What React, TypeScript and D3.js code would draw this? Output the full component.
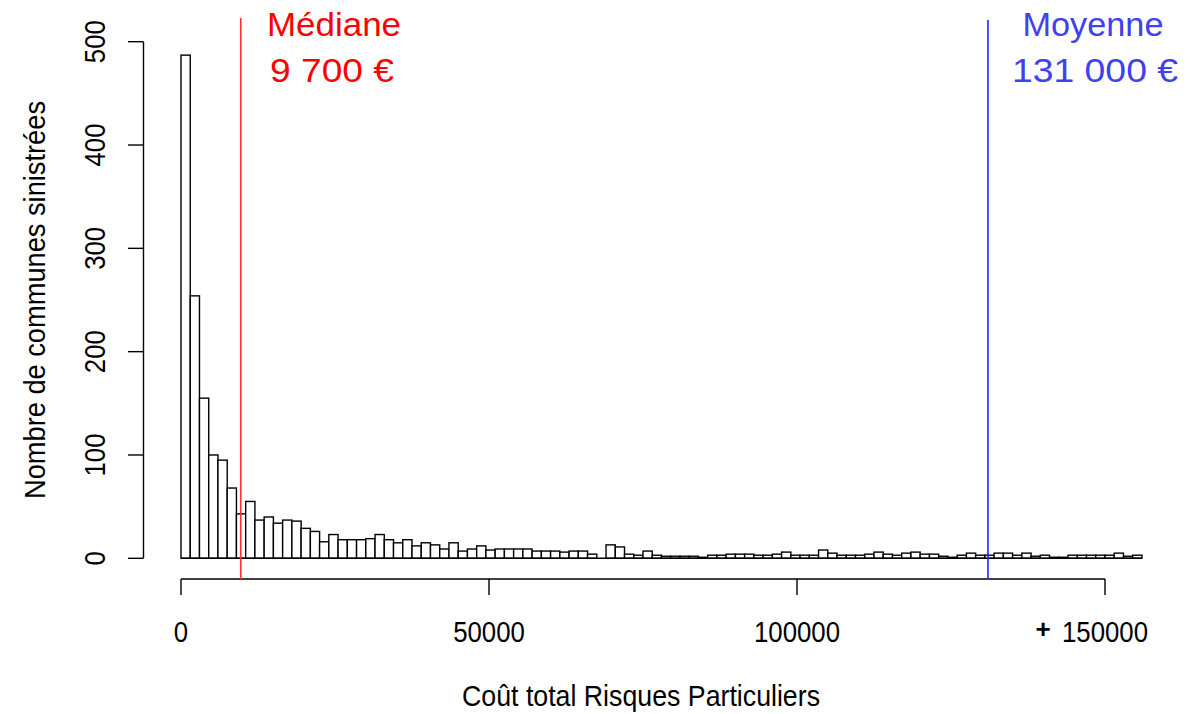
import React from "react";
import * as d3 from "d3";

// Histogram of total cost (bins of 1 500 €), counts per bin
const binWidth = 1500;
const counts: number[] = [
  487, 254, 155, 100, 95, 68, 43, 55, 37, 40,
  34, 37, 36, 29, 26, 16, 23, 18, 18, 18,
  19, 23, 18, 15, 18, 12, 15, 13, 9, 15,
  7, 9, 12, 8, 9, 9, 9, 9, 7, 7,
  7, 6, 7, 7, 4, 0, 13, 11, 4, 3,
  7, 3, 2, 2, 2, 2, 1, 3, 3, 4,
  4, 4, 3, 3, 4, 6, 3, 3, 3, 8,
  5, 3, 3, 3, 4, 6, 4, 3, 5, 6,
  4, 4, 2, 1, 3, 5, 3, 3, 5, 5,
  3, 5, 2, 3, 1, 1, 3, 3, 3, 3,
  3, 5, 2, 3,
];
const xTicks: number[] = [0, 50000, 100000, 150000];
const xTickLabels: string[] = ["0", "50000", "100000", "150000"];
const yTicks: number[] = [0, 100, 200, 300, 400, 500];
const median = 9700;
const mean = 131000;
const medianLabel = ["Médiane", "9 700 €"];
const meanLabel = ["Moyenne", "131 000 €"];
const xTitle = "Coût total Risques Particuliers";
const yTitle = "Nombre de communes sinistrées";

export default function App() {
  const x = d3.scaleLinear().domain([0, 150000]).range([181, 1105]);
  const y = d3.scaleLinear().domain([0, 500]).range([558.3, 41.7]);
  const font = "'Liberation Sans', Arial, sans-serif";
  const axisY = 579;
  const axisX = 143.5;
  const histEnd = counts.length * binWidth;

  return (
    <div style={{ position: "fixed", left: 0, top: 0 }}>
      <svg width={1204} height={714} style={{ display: "block", background: "#fff" }}>
        {/* bars */}
        <g>
          {counts.map((c, i) => {
            const x0 = x(i * binWidth);
            const x1 = x((i + 1) * binWidth);
            return (
              <rect
                key={i}
                x={x0}
                y={y(c)}
                width={x1 - x0}
                height={y(0) - y(c)}
                fill="#fff"
                stroke="#000"
                strokeWidth={1.4}
              />
            );
          })}
          <line x1={x(0)} x2={x(histEnd)} y1={y(0)} y2={y(0)} stroke="#000" strokeWidth={1.4} />
        </g>

        {/* x axis */}
        <g stroke="#000" strokeWidth={1.4}>
          <line x1={x(0)} x2={x(150000)} y1={axisY} y2={axisY} />
          {xTicks.map((t) => (
            <line key={t} x1={x(t)} x2={x(t)} y1={axisY} y2={axisY + 16} />
          ))}
        </g>
        {xTicks.map((t, i) => (
          <text
            key={t}
            transform={`translate(${x(t)},642) scale(0.86,1)`}
            textAnchor="middle"
            fontFamily={font}
            fontSize={30}
            fill="#000"
          >
            {xTickLabels[i]}
          </text>
        ))}
        <text x={1043} y={638} textAnchor="middle" fontFamily={font} fontSize={26} fontWeight="bold" fill="#000">
          +
        </text>
        <text
          x={641}
          y={706}
          textAnchor="middle"
          fontFamily={font}
          fontSize={30}
          textLength={358}
          lengthAdjust="spacingAndGlyphs"
          fill="#000"
        >
          {xTitle}
        </text>

        {/* y axis */}
        <g stroke="#000" strokeWidth={1.4}>
          <line x1={axisX} x2={axisX} y1={y(0)} y2={y(500)} />
          {yTicks.map((t) => (
            <line key={t} x1={axisX} x2={axisX - 15.5} y1={y(t)} y2={y(t)} />
          ))}
        </g>
        {yTicks.map((t) => (
          <text
            key={t}
            transform={`translate(105,${y(t)}) rotate(-90) scale(0.86,1)`}
            textAnchor="middle"
            fontFamily={font}
            fontSize={30}
            fill="#000"
          >
            {String(t)}
          </text>
        ))}
        <text
          transform={`translate(45,300) rotate(-90)`}
          textAnchor="middle"
          fontFamily={font}
          fontSize={29}
          textLength={398}
          lengthAdjust="spacingAndGlyphs"
          fill="#000"
        >
          {yTitle}
        </text>

        {/* median & mean lines */}
        <line x1={x(median)} x2={x(median)} y1={18} y2={axisY} stroke="#ff3030" strokeWidth={1.6} />
        <line x1={x(mean)} x2={x(mean)} y1={20} y2={axisY} stroke="#2222ff" strokeWidth={1.6} />

        <text x={334} y={36} textAnchor="middle" fontFamily={font} fontSize={33} textLength={134} lengthAdjust="spacingAndGlyphs" fill="#ff0000">
          {medianLabel[0]}
        </text>
        <text x={332} y={82} textAnchor="middle" fontFamily={font} fontSize={33} textLength={124} lengthAdjust="spacingAndGlyphs" fill="#ff0000">
          {medianLabel[1]}
        </text>
        <text x={1093} y={36} textAnchor="middle" fontFamily={font} fontSize={33} textLength={141} lengthAdjust="spacingAndGlyphs" fill="#4040ee">
          {meanLabel[0]}
        </text>
        <text x={1095} y={82} textAnchor="middle" fontFamily={font} fontSize={33} textLength={166} lengthAdjust="spacingAndGlyphs" fill="#4040ee">
          {meanLabel[1]}
        </text>
      </svg>
    </div>
  );
}
